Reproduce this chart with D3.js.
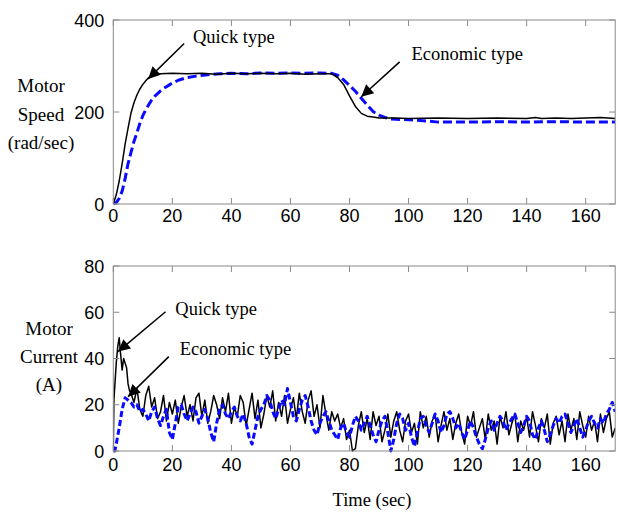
<!DOCTYPE html>
<html>
<head>
<meta charset="utf-8">
<script src="https://cdn.jsdelivr.net/npm/d3@7"></script>
<style>
  html, body { margin: 0; padding: 0; background: #fff; }
  svg { display: block; }
</style>
</head>
<body>
<svg id="chart" width="618" height="512"></svg>
<script>
// ---------------- DATA ----------------
const xTicks = [0, 20, 40, 60, 80, 100, 120, 140, 160];
const speedTicks = [0, 200, 400];
const currentTicks = [0, 20, 40, 60, 80];

// Motor speed (rad/sec)
const quickSpeedTime = [0,1,2,3,4,5,6,7,8,9,10,11,12,13,14,16,20,25,30,35,40,45,50,55,60,65,70,74,76,78,80,82,84,86,88,90,95,100,110,120,130,140,143,145,150,155,160,165,170];
const quickSpeed     = [0,20,50,88,130,165,198,220,237,250,260,268,275,280,283,283,284,283,284,282,284,283,284,283,284,282,283,283,275,260,235,212,197,191,189,187,187,186,187,186,187,186,188,186,187,186,187,188,186];

const ecoSpeedTime = [0,1,2,3,4,5,6,7,8,9,10,11,12,13,14,15,16,17,18,19,20,22,25,28,32,36,40,45,50,55,60,65,70,74,76,78,80,82,84,86,88,90,92,94,100,105,110,120,130,140,150,160,170];
const ecoSpeed     = [0,3,12,28,55,88,112,136,155,175,192,205,216,226,234,240,246,251,255,259,263,269,275,278,281,283,284,283,285,284,285,284,285,284,280,270,258,245,230,215,201,193,188,185,183,181,178,178,179,178,179,178,178];

// Motor current (A)
const quickCurrentTime = [0,0.2,0.6,1,1.5,2,2.4,3,3.5,4,4.5,5,5.5].concat(d3.range(6, 171));
const quickCurrent = [0,22,30,38,45,49,43,35,40,38,36,29,26,
  25,21,27,18,15,24,28,19,23,14,
  17,24,13,21,16,22,12,19,24,15,
  20,13,23,25,15,22,12,17,24,20,
  14,23,17,25,12,19,15,24,21,11,
  18,25,14,22,10,16,24,19,26,13,
  21,15,24,12,18,23,14,25,17,12,
  22,26,15,20,10,24,16,9,17,13,
  16,10,14,5,9,0,1,11,17,8,
  14,5,17,11,15,4,9,16,6,13,
  17,9,4,13,16,8,12,3,17,10,
  15,6,13,16,4,11,17,9,14,5,
  12,16,8,3,15,11,17,6,10,14,
  5,16,9,13,3,15,10,17,7,12,
  16,4,13,9,15,6,17,11,4,14,
  10,16,3,12,15,7,13,4,16,9,
  14,5,17,11,6,15,9,13,4,16,
  8,14,17,6,10];

const ecoCurrentTime = [0,0.5,1,2,3,4].concat(d3.range(5, 171));
const ecoCurrent = [0,0,3,10,18,23,
  22,21,19,20,17,18,16,13,17,19,
  14,11,15,18,8,5,12,19,20,16,
  13,16,19,17,12,15,18,14,8,4,
  12,18,20,16,14,17,19,15,13,16,
  12,6,3,9,15,18,20,24,22,17,
  14,18,22,20,27,21,15,13,18,22,
  24,19,13,9,7,12,15,17,13,9,
  7,5,10,12,8,6,11,15,13,9,
  12,15,11,7,4,9,13,15,8,0,
  5,12,16,14,9,12,6,2,8,14,
  15,11,8,12,16,13,8,11,16,17,
  14,10,12,8,5,9,13,10,6,3,
  1,5,10,13,9,12,15,13,9,12,
  14,16,12,8,11,15,13,7,5,10,
  13,9,4,7,11,14,12,15,16,12,
  8,11,14,10,6,9,13,15,12,10,
  14,12,16,18,21,17];

// ---------------- DRAWING ----------------
const svg = d3.select("#chart");
const sansFont = "'Liberation Sans', Arial, sans-serif";
const serifFont = "'Liberation Serif', 'Times New Roman', serif";
const axisColor = "#8a8a8a";
const blue = "#0a0aff";

const x = d3.scaleLinear().domain([0, 170]).range([113.3, 615.2]);
const ySpeed = d3.scaleLinear().domain([0, 400]).range([204, 20]);
const yCurrent = d3.scaleLinear().domain([0, 80]).range([451, 266]);

function zip(t, v) {
  const n = Math.min(t.length, v.length);
  const out = [];
  for (let i = 0; i < n; i++) out.push([t[i], v[i]]);
  return out;
}

svg.append("defs").append("marker")
  .attr("id", "arrowhead")
  .attr("viewBox", "0 0 10 10")
  .attr("refX", 10).attr("refY", 5)
  .attr("markerWidth", 15).attr("markerHeight", 12)
  .attr("markerUnits", "userSpaceOnUse")
  .attr("orient", "auto")
  .append("path").attr("d", "M0,0 L10,5 L0,10 z").attr("fill", "#000");

function panel(y, yTicks, series, ylabels, labelX, labelBaselines, tickLabelY) {
  const g = svg.append("g");
  const [x0, x1] = x.range();
  const [yb, yt] = y.range();

  const clipId = "clip" + Math.round(yt);
  svg.select("defs").append("clipPath").attr("id", clipId)
    .append("rect").attr("x", x0).attr("y", yt - 2).attr("width", x1 - x0).attr("height", yb - yt + 4);

  const line = d3.line().x(d => x(d[0])).y(d => y(d[1]));
  series.forEach(s => {
    g.append("path")
      .datum(zip(s.t, s.v))
      .attr("clip-path", `url(#${clipId})`)
      .attr("d", line)
      .attr("fill", "none")
      .attr("stroke", s.color)
      .attr("stroke-width", s.width)
      .attr("stroke-dasharray", s.dash || null)
      .attr("stroke-linejoin", "round");
  });

  g.append("rect").attr("x", x0).attr("y", yt).attr("width", x1 - x0).attr("height", yb - yt)
    .attr("fill", "none").attr("stroke", axisColor).attr("stroke-width", 1);

  xTicks.forEach(t => {
    const px = x(t);
    g.append("line").attr("x1", px).attr("x2", px).attr("y1", yb).attr("y2", yb - 6).attr("stroke", axisColor);
    g.append("line").attr("x1", px).attr("x2", px).attr("y1", yt).attr("y2", yt + 6).attr("stroke", axisColor);
    g.append("text").attr("x", px).attr("y", tickLabelY)
      .attr("text-anchor", "middle").attr("font-family", sansFont).attr("font-size", 18)
      .text(t);
  });
  yTicks.forEach(t => {
    const py = y(t);
    g.append("line").attr("x1", x0).attr("x2", x0 + 6).attr("y1", py).attr("y2", py).attr("stroke", axisColor);
    g.append("line").attr("x1", x1).attr("x2", x1 - 6).attr("y1", py).attr("y2", py).attr("stroke", axisColor);
    g.append("text").attr("x", x0 - 9).attr("y", py + 6.5)
      .attr("text-anchor", "end").attr("font-family", sansFont).attr("font-size", 18)
      .text(t);
  });

  ylabels.forEach((s, i) => {
    g.append("text").attr("x", labelX).attr("y", labelBaselines[i])
      .attr("text-anchor", "middle").attr("font-family", serifFont).attr("font-size", 19)
      .text(s);
  });
  return g;
}

function annotate(y, label, textT, textV, fromT, fromV, toT, toV) {
  svg.append("text").attr("x", x(textT)).attr("y", y(textV))
    .attr("font-family", serifFont).attr("font-size", 18.5).text(label);
  svg.append("line")
    .attr("x1", x(fromT)).attr("y1", y(fromV))
    .attr("x2", x(toT)).attr("y2", y(toV))
    .attr("stroke", "#000").attr("stroke-width", 1.5)
    .attr("marker-end", "url(#arrowhead)");
}

panel(ySpeed, speedTicks, [
  { t: ecoSpeedTime, v: ecoSpeed, color: blue, width: 3, dash: "9,4" },
  { t: quickSpeedTime, v: quickSpeed, color: "#000", width: 1.5 }
], ["Motor", "Speed", "(rad/sec)"], 41, [92, 121, 149], 222);

panel(yCurrent, currentTicks, [
  { t: quickCurrentTime, v: quickCurrent, color: "#000", width: 1.5 },
  { t: ecoCurrentTime, v: ecoCurrent, color: blue, width: 3, dash: "6,3" }
], ["Motor", "Current", "(A)"], 49, [335, 363, 391], 471);

annotate(ySpeed, "Quick type", 27, 350, 24, 349, 11.8, 272);
annotate(ySpeed, "Economic type", 101, 313, 97, 309, 84, 233);
annotate(yCurrent, "Quick type", 21, 58.8, 17.7, 60.2, 1.6, 43);
annotate(yCurrent, "Economic type", 22.5, 41.5, 18.8, 40.8, 5, 23.5);

svg.append("text").attr("x", 372).attr("y", 506)
  .attr("text-anchor", "middle").attr("font-family", serifFont).attr("font-size", 18.5)
  .text("Time (sec)");
</script>
</body>
</html>
